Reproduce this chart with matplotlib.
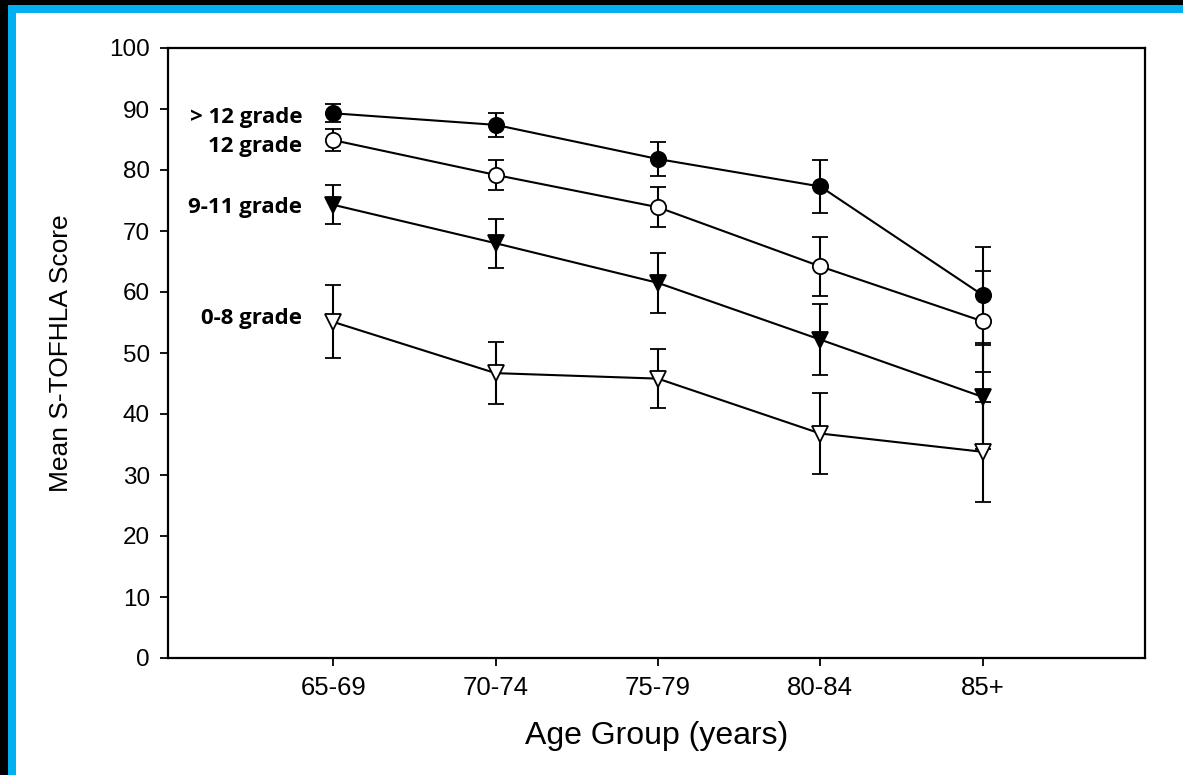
import numpy as np
import matplotlib.pyplot as plt
from matplotlib.patches import Rectangle

# ---------------------------------------------------------------
# data
# ---------------------------------------------------------------
age_groups = ["65-69", "70-74", "75-79", "80-84", "85+"]

over12_mean = [89.3, 87.4, 81.8, 77.3, 59.5]
over12_err = [1.5, 2.0, 2.8, 4.4, 7.8]

grade12_mean = [84.9, 79.2, 73.9, 64.2, 55.2]
grade12_err = [1.8, 2.4, 3.3, 4.8, 8.3]

grade9_11_mean = [74.3, 68.0, 61.5, 52.2, 42.8]
grade9_11_err = [3.2, 4.0, 4.9, 5.8, 8.5]

grade0_8_mean = [55.1, 46.7, 45.8, 36.8, 33.8]
grade0_8_err = [6.0, 5.1, 4.8, 6.7, 8.2]

series_labels = ["> 12 grade", "12 grade", "9-11 grade", "0-8 grade"]
label_y = [88.6, 83.8, 73.8, 55.7]

# ---------------------------------------------------------------
# figure
# ---------------------------------------------------------------
fig = plt.figure(figsize=(11.83, 7.75), dpi=100)
fig.patch.set_facecolor("white")

# frame: black outer edge + blue band on top and left
fig.patches.append(Rectangle((0, 1 - 5 / 775), 1, 5 / 775, transform=fig.transFigure,
                             facecolor="black", edgecolor="none", zorder=0))
fig.patches.append(Rectangle((0, 1 - 13 / 775), 1, 8 / 775, transform=fig.transFigure,
                             facecolor="#00B0F0", edgecolor="none", zorder=0))
fig.patches.append(Rectangle((0, 0), 8 / 1183, 1, transform=fig.transFigure,
                             facecolor="black", edgecolor="none", zorder=0))
fig.patches.append(Rectangle((8 / 1183, 0), 8 / 1183, 1 - 5 / 775, transform=fig.transFigure,
                             facecolor="#00B0F0", edgecolor="none", zorder=0))

ax = fig.add_axes([168 / 1183, 117 / 775, (1145 - 168) / 1183, (658 - 48) / 775])

x = np.arange(len(age_groups))
styles = [
    (over12_mean, over12_err, "o", "black"),
    (grade12_mean, grade12_err, "o", "white"),
    (grade9_11_mean, grade9_11_err, "v", "black"),
    (grade0_8_mean, grade0_8_err, "v", "white"),
]
for means, errs, mk, face in styles:
    ax.errorbar(x, means, yerr=errs, color="black", linewidth=1.5,
                marker=mk, markersize=11 if mk == "o" else 12,
                markerfacecolor=face, markeredgecolor="black", markeredgewidth=1.3,
                capsize=6, capthick=1.5, elinewidth=1.5, zorder=3)

# group labels on the left
for lab, ly in zip(series_labels, label_y):
    ax.text(-0.19, ly, lab, ha="right", va="center", fontsize=16,
            fontweight="bold", family="Open Sans")

ax.set_xlim(-1.017, 5.0)
ax.set_ylim(0, 100)
ax.set_xticks(x)
ax.set_xticklabels(age_groups, family="Liberation Sans", fontsize=18.5)
ax.set_yticks(np.arange(0, 101, 10))
ax.set_yticklabels([str(v) for v in range(0, 101, 10)], family="Liberation Sans", fontsize=17.5)
ax.tick_params(axis="both", direction="out", length=6, width=1.3, color="black", pad=7)

for sp in ax.spines.values():
    sp.set_linewidth(1.6)
    sp.set_color("black")

ax.set_xlabel("Age Group (years)", family="Liberation Sans", fontsize=23, labelpad=15)
ax.set_ylabel("Mean S-TOFHLA Score", family="Liberation Sans", fontsize=19, labelpad=26)

plt.savefig("out.png", dpi=100)
